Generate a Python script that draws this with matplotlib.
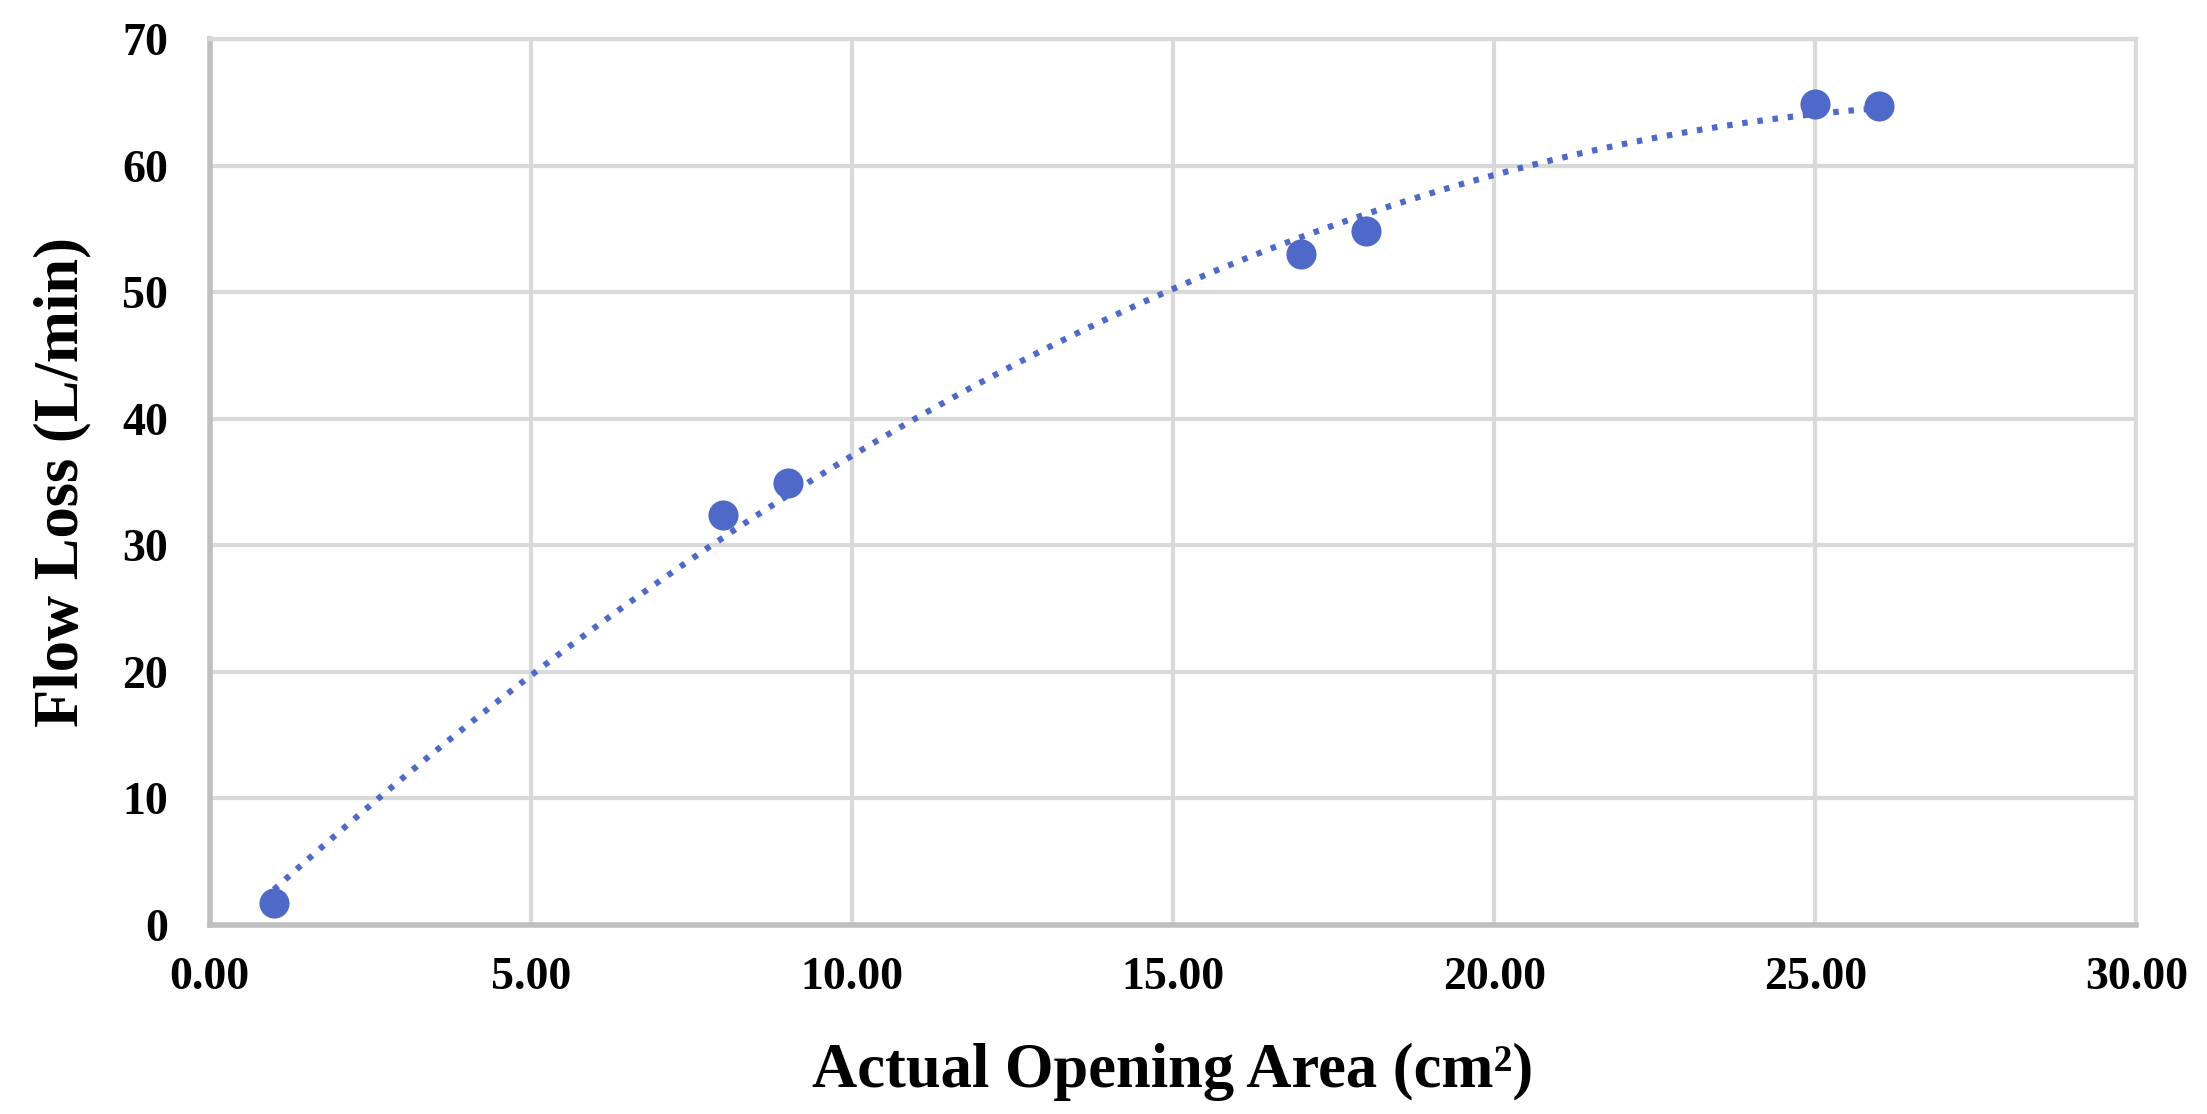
import numpy as np
import matplotlib.pyplot as plt

# measured points
area = [1.0, 8.0, 9.0, 17.0, 18.0, 25.0, 26.0]
flow_loss = [1.7, 32.4, 34.9, 53.0, 54.8, 64.9, 64.7]

x_ticks = [0, 5, 10, 15, 20, 25, 30]
y_ticks = [0, 10, 20, 30, 40, 50, 60, 70]

blue = '#4f69c9'
grid_c = '#d9d9d9'
spine_c = '#bfbfbf'

plt.rcParams['font.family'] = ['Liberation Serif', 'DejaVu Serif']
plt.rcParams['font.weight'] = 'bold'

fig = plt.figure(figsize=(22.07, 11.14), dpi=100)
ax = fig.add_axes([0.095, 0.17, 0.873, 0.795])

# polynomial (order 2) trendline like excel
coef = np.polyfit(area, flow_loss, 2)
xs = np.linspace(min(area), max(area), 200)
ax.plot(xs, np.polyval(coef, xs), color=blue, lw=4.4,
        linestyle=(0, (0.9, 1.6)), zorder=3)

ax.scatter(area, flow_loss, s=470, color=blue, zorder=4, linewidths=0)

ax.set_xlim(0, 30)
ax.set_ylim(0, 70)
ax.set_xticks(x_ticks)
ax.set_yticks(y_ticks)
ax.set_xticklabels(['%.2f' % v for v in x_ticks])
ax.tick_params(axis='both', length=0, labelsize=33)
ax.tick_params(axis='y', pad=30)
ax.tick_params(axis='x', pad=23)

ax.grid(True, color=grid_c, lw=3)
ax.set_axisbelow(True)
for side in ['top', 'right']:
    ax.spines[side].set_color(grid_c)
    ax.spines[side].set_linewidth(3)
for side in ['left', 'bottom']:
    ax.spines[side].set_color(spine_c)
    ax.spines[side].set_linewidth(4)

ax.set_xlabel('Actual Opening Area (cm²)', fontsize=45, fontweight='bold', labelpad=32)
ax.set_ylabel('Flow Loss (L/min)', fontsize=45, fontweight='bold', labelpad=22)

fig.savefig('out.png', dpi=100)
